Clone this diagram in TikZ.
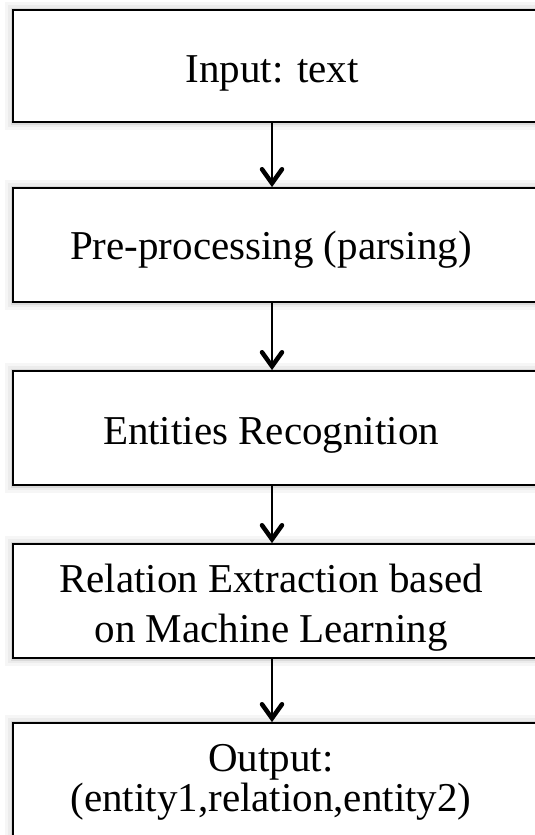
\documentclass[tikz,border=0pt]{standalone}
\usepackage{fontspec}
\setmainfont{Liberation Serif}
\usetikzlibrary{arrows.meta}
\begin{document}
\begin{tikzpicture}[x=1pt,y=-1pt,
  box/.style={draw=black, line width=1.8pt, fill=white, inner sep=0pt, minimum width=532pt,
    preaction={draw=gray!7, line width=16pt},
    preaction={draw=gray!15, line width=10pt},
    preaction={draw=gray!30, line width=5pt}},
  lbl/.style={anchor=base, inner sep=0pt, font=\fontsize{41}{50}\selectfont},
  arr/.style={line width=1.1pt, -{Straight Barb[length=14pt,width=20pt,line width=4.5pt,line cap=round,line join=miter]}}]
\useasboundingbox (0,0) rectangle (535,835);
\begin{scope}
\clip (0,0) rectangle (535,835);
\node[box, minimum height=112pt] (b1) at (279,66) {};
\node[box, minimum height=114pt] (b2) at (279,245) {};
\node[box, minimum height=114pt] (b3) at (279,428) {};
\node[box, minimum height=114pt] (b4) at (279,601) {};
\node[box, minimum height=140pt] (b5) at (279,793) {};
\end{scope}
\coordinate (ax) at (272,0);
\node[lbl] (t1) at (272,82) {Input: text};
\node[lbl] (t2) at (271,259) {Pre-processing (parsing)};
\node[lbl] (t3) at (271,444) {Entities Recognition};
\node[lbl] (t4a) at (271,592) {Relation Extraction based};
\node[lbl] (t4b) at (271,642) {on Machine Learning};
\node[lbl] (t5a) at (271,771) {Output:};
\node[lbl] (t5b) at (271,811) {(entity1,relation,entity2)};
\draw[arr] (b1.south -| ax) -- (b2.north -| ax);
\draw[arr] (b2.south -| ax) -- (b3.north -| ax);
\draw[arr] (b3.south -| ax) -- (b4.north -| ax);
\draw[arr] (b4.south -| ax) -- (b5.north -| ax);
\end{tikzpicture}
\end{document}
